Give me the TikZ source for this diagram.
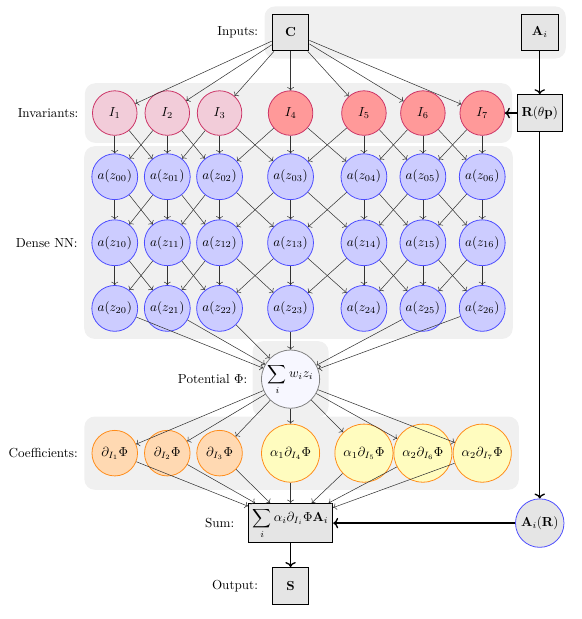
\documentclass[tikz,border=0pt]{standalone}
\usepackage{amsmath}
\usepackage{amssymb}
\usepackage{tikz}
\usetikzlibrary{positioning, fit, backgrounds, arrows.meta}

\begin{document}
\begin{tikzpicture}
		[
		box/.style ={on grid, rectangle, draw=black, thick, fill=gray!20, minimum size=28pt},
		inv/.style ={on grid, circle, draw=purple!80, semithick, minimum size=34pt, inner sep=1pt},
		invlow/.style ={inv, fill=purple!20},
		invhigh/.style ={inv, fill=red!40},
		dense/.style ={on grid, circle, draw=blue!70, semithick, fill=blue!20, minimum size=35pt, inner sep=1pt},
		pot/.style ={on grid, circle, draw=gray, semithick, fill=blue!3, minimum size=42pt, inner sep=1pt},
		coef/.style ={on grid, circle, draw=orange!90, semithick, minimum size=34pt, inner sep=4.5pt},
		dcoef/.style ={coef, fill=orange!30},
		acoef/.style ={coef, fill=yellow!25},
		ar/.style ={circle, draw=blue!70, semithick, fill=gray!20, minimum size=37pt, inner sep=2pt},
		bg/.style ={rectangle, rounded corners=8pt, fill=gray!12, inner sep=5.5pt},
		edge/.style ={->, black!80, line width=0.4pt},
		thickarrow/.style ={->, line width=1pt}
		]
		\useasboundingbox (-221.8pt,24.8pt) rectangle (221.8pt,-447.7pt);
		% inputs
		\node[box] (C) {$\mathbf{C}$};
		\node[box, right=190.2pt of C] (A) {$\mathbf{A}_i$};
		\node[box, below=61.5pt of A] (R) {$\mathbf{R}(\theta\mathbf{p})$};
		% invariants
		\node[invhigh, below=61.5pt of C] (I4) {$I_4$};
		\node[invlow, left=54.2pt of I4] (I3) {$I_3$};
		\node[invlow, left=39.9pt of I3] (I2) {$I_2$};
		\node[invlow, left=40.1pt of I2] (I1) {$I_1$};
		\node[invhigh, right=56pt of I4] (I5) {$I_5$};
		\node[invhigh, right=45pt of I5] (I6) {$I_6$};
		\node[invhigh, right=45.3pt of I6] (I7) {$I_7$};
		% dense layers
		\foreach \c [count=\n] in {0,...,6} {
			\node[dense, below=48.6pt of I\n] (z0\c) {$a(z_{0\c})$};
			\node[dense, below=50.4pt of z0\c] (z1\c) {$a(z_{1\c})$};
			\node[dense, below=50.1pt of z1\c] (z2\c) {$a(z_{2\c})$};
		}
		\node[pot, below=54pt of z23] (P) {$\displaystyle\sum_i w_i z_i$};
		% coefficients
		\coordinate[on grid, below=56.5pt of P] (crow);
		\node[dcoef] (c1) at (I1 |- crow) {$\partial_{I_1}\Phi$};
		\node[dcoef] (c2) at (I2 |- crow) {$\partial_{I_2}\Phi$};
		\node[dcoef] (c3) at (I3 |- crow) {$\partial_{I_3}\Phi$};
		\node[acoef] (c4) at (I4 |- crow) {$\alpha_1\partial_{I_4}\Phi$};
		\node[acoef] (c5) at (I5 |- crow) {$\alpha_1\partial_{I_5}\Phi$};
		\node[acoef] (c6) at (I6 |- crow) {$\alpha_2\partial_{I_6}\Phi$};
		\node[acoef] (c7) at (I7 |- crow) {$\alpha_2\partial_{I_7}\Phi$};
		\node[box, below=53.4pt of c4] (Sum) {$\displaystyle\sum_i \alpha_i\partial_{I_i}\Phi\mathbf{A}_i$};
		\node[box, below=47.9pt of Sum] (Out) {$\mathbf{S}$};
		\node[ar] (AR) at (R |- Sum) {$\mathbf{A}_i(\mathbf{R})$};
		% labels
		\node[left=7pt of C] (lin) {Inputs:};
		\node[left=7pt of I1] (linv) {Invariants:};
		\node[left=7pt of z10] (ldense) {Dense NN:};
		\node[left=7pt of P] (lpot) {Potential $\Phi$:};
		\node[left=7pt of c1] (lcoef) {Coefficients:};
		\node[left=7pt of Sum] (lsum) {Sum:};
		\node[left=7pt of Out] (lout) {Output:};
		% grey panels
		\begin{pgfonlayer}{background}
			\node[bg, fit=(C)(A)] (bgin) {};
			\node[bg, fit=(I1)(I7)] (bginv) {};
			\node[bg, fit=(z00)(z26)] (bgdense) {};
			\node[bg, fit=(P), inner sep=6.5pt] (bgpot) {};
			\node[bg, fit=(c1)(c4)(c7)] (bgcoef) {};
		\end{pgfonlayer}
		% connections
		\foreach \n in {1,...,7} \draw[edge] (C) -- (I\n);
		\foreach \c [count=\n] in {0,...,6} \draw[edge] (I\n) -- (z0\c);
		\foreach \c in {0,...,5} {
			\pgfmathtruncatemacro{\n}{\c+1}
			\pgfmathtruncatemacro{\m}{\c+2}
			\draw[edge] (I\n) -- (z0\n);
			\draw[edge] (I\m) -- (z0\c);
		}
		\foreach \r/\s in {0/1, 1/2} {
			\foreach \c in {0,...,6} \draw[edge] (z\r\c) -- (z\s\c);
			\foreach \c [count=\n] in {0,...,5} {
				\draw[edge] (z\r\c) -- (z\s\n);
				\draw[edge] (z\r\n) -- (z\s\c);
			}
		}
		\foreach \c in {0,1,2,3,5,6} \draw[edge] (z2\c) -- (P);
		\foreach \n in {1,...,7} \draw[edge] (P) -- (c\n);
		\foreach \n in {1,...,7} \draw[edge] (c\n) -- (Sum);
		\draw[thickarrow] (A) -- (R);
		\draw[thickarrow] (R) -- (I7);
		\draw[thickarrow] (R) -- (AR);
		\draw[thickarrow] (AR) -- (Sum);
		\draw[thickarrow] (Sum) -- (Out);
	\end{tikzpicture}
\end{document}
